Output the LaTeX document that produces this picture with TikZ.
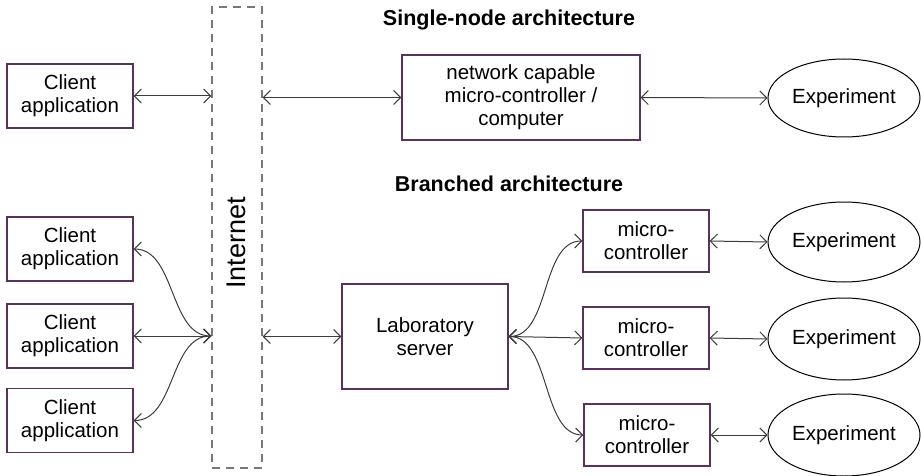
\documentclass[tikz,border=0pt]{standalone}
\usepackage{fontspec}
\setmainfont{Liberation Sans}
\usetikzlibrary{arrows.meta,shapes.geometric}
\definecolor{boxline}{RGB}{88,50,90}
\definecolor{dashgray}{RGB}{120,120,120}
\definecolor{linegray}{RGB}{60,60,60}
\tikzset{
  box/.style={draw=boxline, line width=1.2pt, rectangle, align=center, inner sep=0pt,
              font=\fontsize{20.5}{23}\selectfont},
  exper/.style={draw=black, line width=1pt, ellipse, inner sep=0pt, minimum width=152pt,
              font=\fontsize{20.5}{23}\selectfont},
  title/.style={font=\fontsize{21.5}{25}\selectfont\bfseries},
  arr/.style={draw=linegray, line width=1pt, {Straight Barb[length=7pt,width=14pt]}-{Straight Barb[length=7pt,width=14pt]}},
}
\begin{document}
\begin{tikzpicture}[x=1pt,y=-1pt]
\useasboundingbox (0,0) rectangle (921,476);
% Internet
\node[draw=dashgray, dash pattern=on 8pt off 6pt, line width=1.2pt, minimum width=50pt, minimum height=461pt, inner sep=0pt] (inet) at (237,237.5) {};
\node[rotate=90, font=\fontsize{27}{30}\selectfont] (inettext) at (236,243) {Internet};
% titles
\node[title] (t1) at (509,20) {Single-node architecture};
\node[title] (t2) at (509,184) {Branched architecture};
% single-node
\node[box, minimum width=126pt, minimum height=64pt] (ctop) at (70,96) {Client\\application};
\node[box, minimum width=238pt, minimum height=85pt] (net) at (521,97.5) {network capable\\micro-controller /\\computer};
\node[exper, minimum height=78pt] (etop) at (844,98) {Experiment};
\draw[arr] (ctop.east) -- (ctop.east -| inet.west);
\draw[arr] (net.west -| inet.east) -- (net.west);
\draw[arr] (net.east) -- (etop.west);
% branched
\node[box, minimum width=126pt, minimum height=64pt] (c1) at (70,249) {Client\\application};
\node[box, minimum width=126pt, minimum height=64pt] (c2) at (70,336) {Client\\application};
\node[box, minimum width=126pt, minimum height=64pt] (c3) at (70,420.5) {Client\\application};
\coordinate (ihub) at (c2.east -| inet.west);
\draw[arr] (c1.east) .. controls +(42,0) and +(-42,0) .. (ihub);
\draw[arr] (c2.east) -- (ihub);
\draw[arr] (c3.east) .. controls +(42,0) and +(-42,0) .. (ihub);
\node[box, minimum width=166pt, minimum height=105pt] (lab) at (425,336.5) {Laboratory\\server};
\draw[arr] (lab.west -| inet.east) -- (lab.west);
\node[box, minimum width=126pt, minimum height=62pt] (m1) at (646,241) {micro-\\controller};
\node[box, minimum width=126pt, minimum height=62pt] (m2) at (646,338) {micro-\\controller};
\node[box, minimum width=126pt, minimum height=62pt] (m3) at (647,435) {micro-\\controller};
\draw[arr] (lab.east) .. controls +(42,0) and +(-42,0) .. (m1.west);
\draw[arr] (lab.east) -- (m2.west);
\draw[arr] (lab.east) .. controls +(42,0) and +(-42,0) .. (m3.west);
\node[exper, minimum height=80pt] (e1) at (844,242) {Experiment};
\node[exper, minimum height=82pt] (e2) at (844,339) {Experiment};
\node[exper, minimum height=82pt] (e3) at (844,435) {Experiment};
\draw[arr] (m1.east) -- (e1.west);
\draw[arr] (m2.east) -- (e2.west);
\draw[arr] (m3.east) -- (e3.west);
\end{tikzpicture}
\end{document}
